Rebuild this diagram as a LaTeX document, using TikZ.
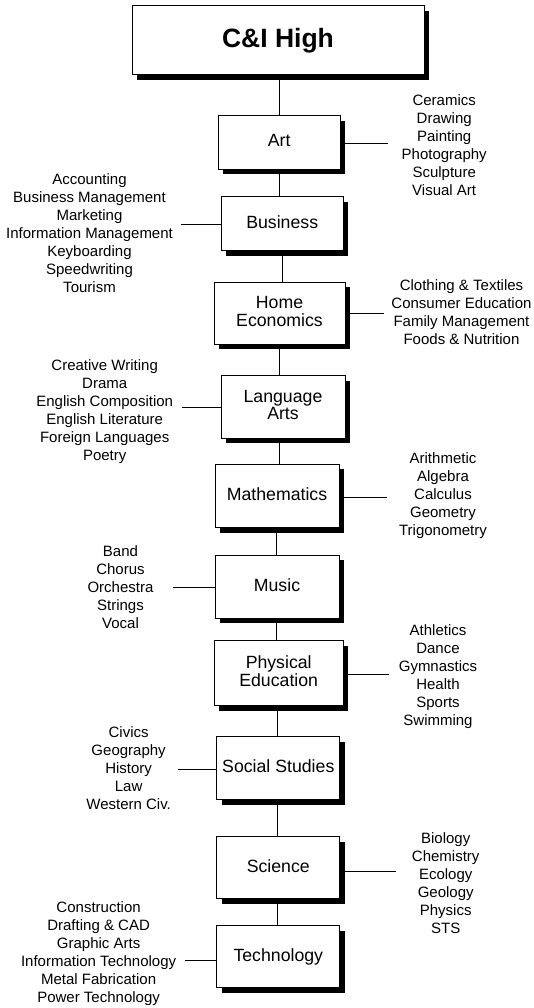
\documentclass[tikz,border=0pt]{standalone}
\usepackage{fontspec}
\setmainfont{Liberation Sans}
\usetikzlibrary{shadows}
\begin{document}
\begin{tikzpicture}[x=1pt,y=-1pt,
  boxbase/.style={draw, line width=1pt, fill=white, align=center, inner sep=0pt,
    drop shadow={shadow xshift=5pt, shadow yshift=-5pt, fill=black, opacity=1}},
  box/.style={boxbase, text depth=4pt, font=\fontsize{17.7}{17.7}\selectfont},
  titlebox/.style={boxbase, font=\bfseries\fontsize{26.5}{30}\selectfont},
  list/.style={align=center, inner sep=0pt, font=\fontsize{15}{18}\selectfont},
  conn/.style={line width=1pt}]
\useasboundingbox (0,0) rectangle (533,1008);
% boxes
\node[titlebox, minimum width=292pt, minimum height=69pt] (top) at (278,40.5) {C\&I High};
\node[box, minimum width=121.7pt, minimum height=53.6pt] (art) at (279.2,142.5) {Art};
\node[box, minimum width=122.3pt, minimum height=54.3pt] (bus) at (282.2,223.8) {Business};
\node[box, minimum width=131pt, minimum height=61.7pt] (he) at (279.5,313.2) {Home\\Economics};
\node[box, minimum width=124pt, minimum height=62.6pt] (la) at (283,407) {Language\\Arts};
\node[box, minimum width=124pt, minimum height=63.4pt] (math) at (277,496) {Mathematics};
\node[box, minimum width=124pt, minimum height=63.3pt] (mus) at (277,586.7) {Music};
\node[box, minimum width=129.3pt, minimum height=65.3pt] (pe) at (278.7,673.3) {Physical\\Education};
\node[box, minimum width=123.3pt, minimum height=63.3pt] (ss) at (278.3,768.3) {Social Studies};
\node[box, minimum width=123.3pt, minimum height=62.3pt] (sci) at (278.3,867.8) {Science};
\node[box, minimum width=123.3pt, minimum height=62pt] (tech) at (278.3,956.7) {Technology};
% lists
\node[list] (artl) at (444.2,145) {Ceramics\\Drawing\\Painting\\Photography\\Sculpture\\Visual Art};
\node[list] (busl) at (89.5,233.5) {Accounting\\Business Management\\Marketing\\Information Management\\Keyboarding\\Speedwriting\\Tourism};
\node[list] (hel) at (461.5,311.7) {Clothing \& Textiles\\Consumer Education\\Family Management\\Foods \& Nutrition};
\node[list] (lal) at (104.7,411.3) {Creative Writing\\Drama\\English Composition\\English Literature\\Foreign Languages\\Poetry};
\node[list] (mathl) at (443,495.5) {Arithmetic\\Algebra\\Calculus\\Geometry\\Trigonometry};
\node[list] (musl) at (120.5,586.8) {Band\\Chorus\\Orchestra\\Strings\\Vocal};
\node[list] (pel) at (438,676.5) {Athletics\\Dance\\Gymnastics\\Health\\Sports\\Swimming};
\node[list] (ssl) at (128.6,768.5) {Civics\\Geography\\History\\Law\\Western Civ.};
\node[list] (scil) at (445.7,883.3) {Biology\\Chemistry\\Ecology\\Geology\\Physics\\STS};
\node[list] (techl) at (98.6,954) {Construction\\Drafting \& CAD\\Graphic Arts\\Information Technology\\Metal Fabrication\\Power Technology};
% connector ends
\coordinate (artc) at (388.3,143.3);
\coordinate (busc) at (181,225);
\coordinate (hec) at (384,313.3);
\coordinate (lac) at (181.5,407.5);
\coordinate (mathc) at (386.7,497.3);
\coordinate (musc) at (173.3,587.3);
\coordinate (pec) at (389.3,674.3);
\coordinate (ssc) at (178,769);
\coordinate (scic) at (396,871.7);
\coordinate (techc) at (185,960);
% x positions of the vertical connectors
\coordinate (v1) at (279.3,0);
\coordinate (v2) at (279.3,0);
\coordinate (v3) at (282.3,0);
\coordinate (v4) at (279.3,0);
\coordinate (v5) at (279.3,0);
\coordinate (v6) at (276.7,0);
\coordinate (v7) at (276.7,0);
\coordinate (v8) at (277.3,0);
\coordinate (v9) at (277.7,0);
\coordinate (v10) at (277.7,0);
% vertical connectors
\draw[conn] (top.south -| v1) -- (art.north -| v1);
\draw[conn] (art.south -| v2) -- (bus.north -| v2);
\draw[conn] (bus.south -| v3) -- (he.north -| v3);
\draw[conn] (he.south -| v4) -- (la.north -| v4);
\draw[conn] (la.south -| v5) -- (math.north -| v5);
\draw[conn] (math.south -| v6) -- (mus.north -| v6);
\draw[conn] (mus.south -| v7) -- (pe.north -| v7);
\draw[conn] (pe.south -| v8) -- (ss.north -| v8);
\draw[conn] (ss.south -| v9) -- (sci.north -| v9);
\draw[conn] (sci.south -| v10) -- (tech.north -| v10);
% side connectors
\draw[conn] (art.east |- artc) -- (artc);
\draw[conn] (busc) -- (busc -| bus.west);
\draw[conn] (he.east |- hec) -- (hec);
\draw[conn] (lac) -- (lac -| la.west);
\draw[conn] (math.east |- mathc) -- (mathc);
\draw[conn] (musc) -- (musc -| mus.west);
\draw[conn] (pe.east |- pec) -- (pec);
\draw[conn] (ssc) -- (ssc -| ss.west);
\draw[conn] (sci.east |- scic) -- (scic);
\draw[conn] (techc) -- (techc -| tech.west);
\end{tikzpicture}
\end{document}
